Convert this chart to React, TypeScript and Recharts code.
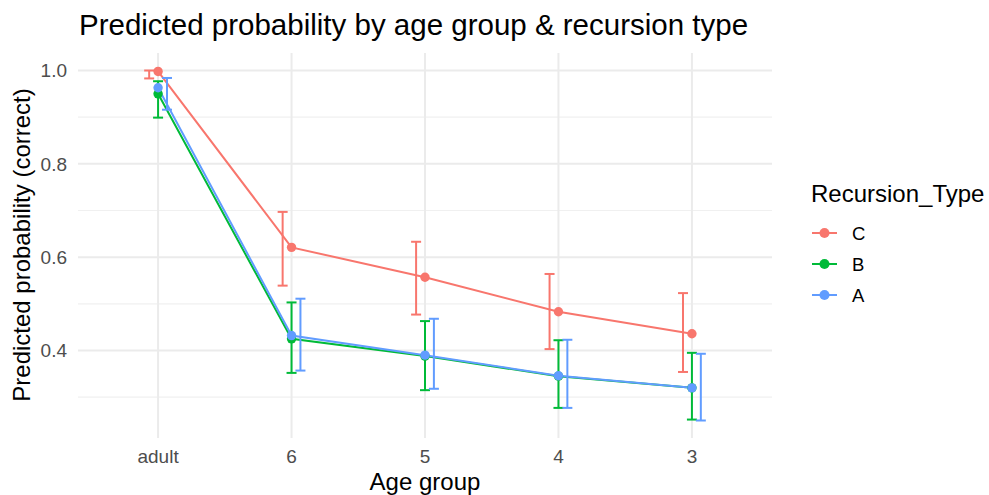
import {
  ComposedChart,
  Line,
  Scatter,
  ErrorBar,
  XAxis,
  YAxis,
  CartesianGrid,
} from 'recharts'

const AGE_GROUPS = ['adult', '6', '5', '4', '3']
const TYPES = ['C', 'B', 'A']

const C_FIT = [0.998, 0.621, 0.557, 0.483, 0.436]
const C_LOW = [0.983, 0.539, 0.477, 0.403, 0.354]
const C_HIGH = [1.0, 0.697, 0.633, 0.564, 0.523]

const B_FIT = [0.95, 0.425, 0.388, 0.345, 0.32]
const B_LOW = [0.899, 0.352, 0.315, 0.277, 0.252]
const B_HIGH = [0.977, 0.503, 0.463, 0.422, 0.395]

const A_FIT = [0.963, 0.432, 0.39, 0.346, 0.32]
const A_LOW = [0.916, 0.357, 0.318, 0.277, 0.25]
const A_HIGH = [0.984, 0.511, 0.468, 0.423, 0.393]

const COLORS: Record<string, string> = {
  C: '#F8766D',
  B: '#00BA38',
  A: '#619CFF',
}

const Y_TICKS = [0.4, 0.6, 0.8, 1.0]
const Y_MINOR = [0.3, 0.5, 0.7, 0.9]

const FONT = '"Liberation Sans", Arial, sans-serif'

// dodge width 0.2 split between the three groups
const DODGE: Record<string, number> = { C: -0.0667, B: 0, A: 0.0667 }

const SERIES: Record<string, { fit: number[]; low: number[]; high: number[] }> = {
  C: { fit: C_FIT, low: C_LOW, high: C_HIGH },
  B: { fit: B_FIT, low: B_LOW, high: B_HIGH },
  A: { fit: A_FIT, low: A_LOW, high: A_HIGH },
}

const lineData = AGE_GROUPS.map((_, i) => ({
  x: i,
  C: C_FIT[i],
  B: B_FIT[i],
  A: A_FIT[i],
}))

const errData = (key: string) =>
  AGE_GROUPS.map((_, i) => {
    const s = SERIES[key]
    return {
      x: i + DODGE[key],
      y: s.fit[i],
      err: [s.fit[i] - s.low[i], s.high[i] - s.fit[i]],
    }
  })

// titles + legend, laid over the chart svg
function Overlay() {
  return (
    <svg
      width={989}
      height={495}
      style={{ position: 'absolute', left: 0, top: 0, pointerEvents: 'none' }}
      fontFamily={FONT}
    >
      <text x={79} y={35} fontSize={29.5} fill="#000">
        Predicted probability by age group &amp; recursion type
      </text>
      <text x={425} y={490} fontSize={24} fill="#000" textAnchor="middle">
        Age group
      </text>
      <text
        x={30}
        y={245}
        fontSize={24}
        fill="#000"
        textAnchor="middle"
        transform="rotate(-90 30 245)"
      >
        Predicted probability (correct)
      </text>
      <text x={811} y={202} fontSize={24} fill="#000">
        Recursion_Type
      </text>
      {TYPES.map((t, i) => {
        const cy = 233 + i * 31
        return (
          <g key={t}>
            <line x1={812} x2={837} y1={cy} y2={cy} stroke={COLORS[t]} strokeWidth={2} />
            <circle cx={824.5} cy={cy} r={5} fill={COLORS[t]} />
            <text x={852} y={cy + 6.5} fontSize={18.5} fill="#000">
              {t}
            </text>
          </g>
        )
      })}
    </svg>
  )
}

export default function App() {
  return (
    <div style={{ position: 'absolute', left: 0, top: 0, width: 989, height: 495, background: '#fff' }}>
      <ComposedChart
        width={989}
        height={495}
        data={lineData}
        margin={{ top: 53, right: 217, bottom: 0, left: 0 }}
      >
        <CartesianGrid
          stroke="#F0F0F0"
          strokeWidth={1.2}
          horizontalValues={Y_MINOR}
          vertical={false}
        />
        <CartesianGrid
          stroke="#EBEBEB"
          strokeWidth={2}
          horizontalValues={Y_TICKS}
          verticalValues={[0, 1, 2, 3, 4]}
        />
        <XAxis
          type="number"
          dataKey="x"
          domain={[-0.6, 4.6]}
          ticks={[0, 1, 2, 3, 4]}
          tickFormatter={(v: number) => AGE_GROUPS[v]}
          axisLine={false}
          tickLine={false}
          tickSize={0}
          tickMargin={12}
          height={57}
          tick={{ fill: '#4D4D4D', fontSize: 19, fontFamily: FONT }}
        />
        <YAxis
          type="number"
          domain={[0.2125, 1.0375]}
          ticks={Y_TICKS}
          tickFormatter={(v: number) => v.toFixed(1)}
          axisLine={false}
          tickLine={false}
          tickSize={0}
          tickMargin={11}
          width={78}
          tick={{ fill: '#4D4D4D', fontSize: 19, fontFamily: FONT }}
        />
        {TYPES.map((t) => (
          <Line
            key={`line-${t}`}
            dataKey={t}
            stroke={COLORS[t]}
            strokeWidth={2}
            dot={{ r: 4.7, fill: COLORS[t], stroke: 'none' }}
            activeDot={false}
            isAnimationActive={false}
          />
        ))}
        {TYPES.map((t) => (
          <Scatter
            key={`err-${t}`}
            data={errData(t)}
            dataKey="y"
            shape={() => <g />}
            isAnimationActive={false}
          >
            <ErrorBar
              dataKey="err"
              direction="y"
              width={5}
              stroke={COLORS[t]}
              strokeWidth={2}
              isAnimationActive={false}
            />
          </Scatter>
        ))}
      </ComposedChart>
      <Overlay />
    </div>
  )
}
